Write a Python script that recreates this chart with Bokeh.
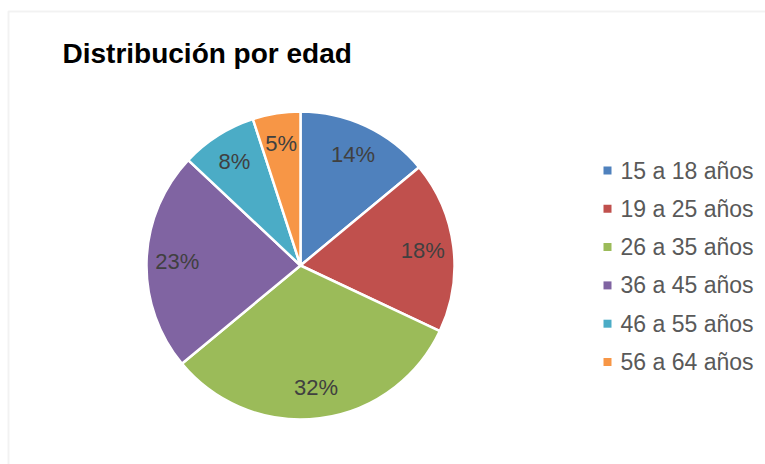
import math
from bokeh.plotting import figure
from bokeh.models import Range1d, BoxAnnotation, ColumnDataSource
from bokeh.core.properties import value
from bokeh.embed import file_html
from bokeh.resources import INLINE

title_text = "Distribución por edad"
categories = ["15 a 18 años", "19 a 25 años", "26 a 35 años", "36 a 45 años", "46 a 55 años", "56 a 64 años"]
percent = [14, 18, 32, 23, 8, 5]
colors = ["#4F81BD", "#C0504D", "#9BBB59", "#8064A2", "#4BACC6", "#F79646"]

W, H = 765, 464
p = figure(width=W, height=H, output_backend="svg", toolbar_location=None,
           x_range=Range1d(0, W), y_range=Range1d(0, H), min_border=0)
p.axis.visible = False
p.grid.visible = False
p.outline_line_color = None
p.background_fill_color = "white"
p.border_fill_color = "white"

# chart border (top and left visible)
p.add_layout(BoxAnnotation(left=8, right=W + 20, top=H - 11, bottom=-20,
                           fill_color=None, line_color="#D4D4D4", line_width=2))

# pie
cx, cy, r = 300, H - 265, 154
total = sum(percent)
starts, ends, lx, ly, labels = [], [], [], [], []
cum = 0
for v in percent:
    a0 = math.pi / 2 - 2 * math.pi * cum / total
    a1 = math.pi / 2 - 2 * math.pi * (cum + v) / total
    starts.append(a0)
    ends.append(a1)
    mid = (a0 + a1) / 2
    lx.append(cx + 0.8 * r * math.cos(mid))
    ly.append(cy + 0.8 * r * math.sin(mid))
    labels.append(f"{round(100 * v / total)}%")
    cum += v

src = ColumnDataSource(dict(start=starts, end=ends, color=colors, lx=lx, ly=ly, label=labels))
p.wedge(x=cx, y=cy, radius=r, start_angle="start", end_angle="end", direction="clock",
        fill_color="color", line_color="white", line_width=2.5, source=src)
p.text(x="lx", y="ly", text="label", source=src, text_font=value("Liberation Sans"),
       text_font_size="22px", text_color="#404040", text_align="center", text_baseline="middle")

# title
p.text(x=[62], y=[H - 53], text=[title_text], text_font=value("Liberation Sans"),
       text_font_size="28px", text_font_style="bold", text_color="#000000",
       text_align="left", text_baseline="alphabetic")

# legend
sq_x = [607] * len(categories)
sq_y = [H - (170 + 38.3 * i) for i in range(len(categories))]
p.rect(x=sq_x, y=sq_y, width=8, height=8, fill_color=colors, line_color=None)
p.text(x=[620] * len(categories), y=sq_y, text=categories, text_font=value("Liberation Sans"),
       text_font_size="23px", text_color="#595959", text_align="left", text_baseline="middle")

open("out.html", "w").write(file_html(p, INLINE))
